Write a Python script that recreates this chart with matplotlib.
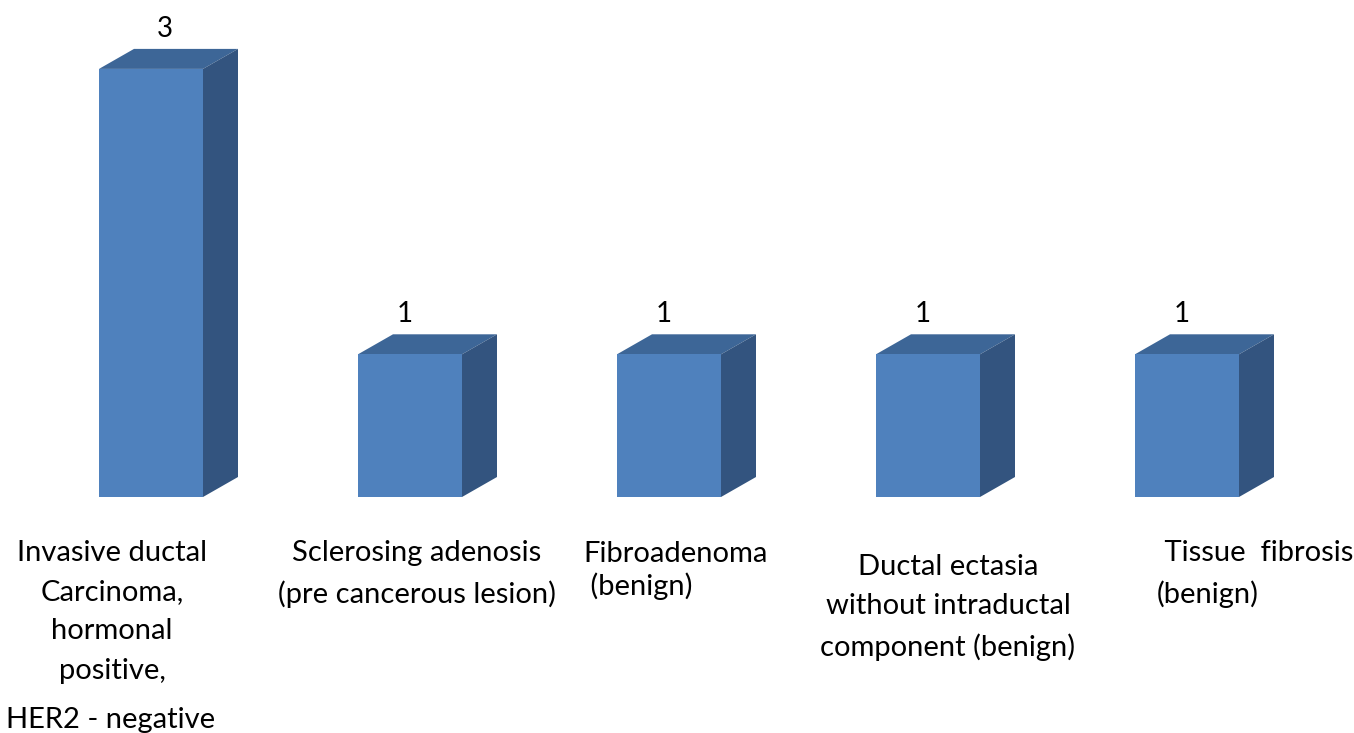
import matplotlib.pyplot as plt
from matplotlib.patches import Polygon

categories = [
    "Invasive ductal\nCarcinoma,\nhormonal\npositive,",
    "Sclerosing adenosis\n(pre cancerous lesion)",
    "Fibroadenoma\n (benign)",
    "Ductal ectasia\nwithout intraductal\ncomponent (benign)",
    " Tissue  fibrosis\n(benign)",
]
counts = [3, 1, 1, 1, 1]

W, H = 1354, 733
FRONT = "#4F81BD"
TOP = "#3D6697"
SIDE = "#33547F"

plt.rcParams["font.family"] = ["Lato", "DejaVu Sans"]

fig = plt.figure(figsize=(W / 100, H / 100), dpi=100)
ax = fig.add_axes([0, 0, 1, 1])
# one category step = 259 px, one count unit = 142.7 px
ax.set_xlim(-151 / 259, (W - 151) / 259)
ax.set_ylim(-236 / 142.7, (H - 236) / 142.7)
ax.axis("off")

width = 104 / 259
dx = 35 / 259
dy = 20 / 142.7
# value labels sit a little off the bar centre, as in the original
label_shift = [14 / 259, -5 / 259, -5 / 259, -5 / 259, -5 / 259]

x = range(len(categories))
ax.bar(x, counts, width, color=FRONT, zorder=3)
for i, v in zip(x, counts):
    left, right = i - width / 2, i + width / 2
    top = Polygon([(left, v), (right, v), (right + dx, v + dy), (left + dx, v + dy)],
                  closed=True, facecolor=TOP, edgecolor="none", zorder=2)
    side = Polygon([(right, 0), (right + dx, dy), (right + dx, v + dy), (right, v)],
                   closed=True, facecolor=SIDE, edgecolor="none", zorder=2)
    ax.add_patch(top)
    ax.add_patch(side)
    ax.text(i + label_shift[i], v + dy + 0.14, str(v), ha="center", va="center",
            fontsize=20, color="black")


def px(xp, yp):
    return xp / W, 1 - yp / H


label_style = dict(fontsize=21, color="black", linespacing=1.63)
fig.text(*px(112, 540), categories[0], ha="center", va="top", **label_style)
fig.text(*px(111, 720), "HER2 - negative", ha="center", va="center", **label_style)
fig.text(*px(417, 540), categories[1], ha="center", va="top", **label_style)
fig.text(*px(583, 541), categories[2], ha="left", va="top", fontsize=21, linespacing=1.25)
fig.text(*px(948, 554), categories[3], ha="center", va="top", **label_style)
fig.text(*px(1157, 540), categories[4], ha="left", va="top", fontsize=21, linespacing=1.63)

fig.savefig("out.png", dpi=100, facecolor="white")
